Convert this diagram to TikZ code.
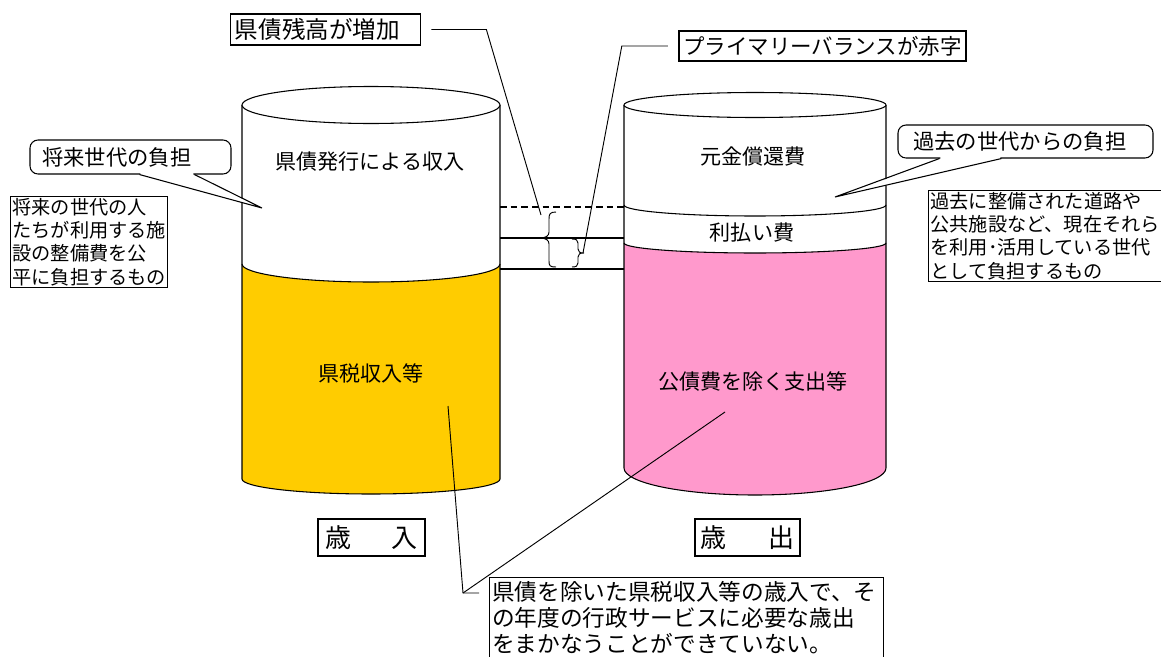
\documentclass[tikz,border=0pt]{standalone}
\usepackage{fontspec}
\setmainfont{Noto Sans CJK JP}
\usetikzlibrary{calc}
\definecolor{ylw}{HTML}{FFCC00}
\definecolor{pnk}{HTML}{FF99CC}
\begin{document}
\begin{tikzpicture}[x=0.75pt,y=-0.75pt,line width=0.8pt,
  cyltext/.style={inner sep=0pt,font=\fontsize{15.8pt}{19pt}\selectfont},
  callbox/.style={draw,fill=white,rounded corners=6pt,align=left,inner ysep=0pt,font=\fontsize{16pt}{19pt}\selectfont},
  notebox/.style={draw,fill=white,align=left,inner xsep=1.5pt,inner ysep=1pt,font=\fontsize{14.4pt}{17.6pt}\selectfont,anchor=north west},
  titlebox/.style={draw,fill=white,inner sep=0pt},
  leader/.style={line width=0.7pt}]

\clip (0,0) rectangle (1161,657);
\fill[white] (0,0) rectangle (1161,657);

% left cylinder
\fill[white] (242,105) -- (242,264) arc[start angle=180,end angle=0,x radius=129,y radius=18] -- (500,105) -- cycle;
\fill[ylw] (242,264) arc[start angle=180,end angle=0,x radius=129,y radius=18] -- (500,479) arc[start angle=0,end angle=180,x radius=129,y radius=15] -- cycle;
\draw (242,105) -- (242,479) arc[start angle=180,end angle=0,x radius=129,y radius=15] -- (500,105);
\draw (242,264) arc[start angle=180,end angle=0,x radius=129,y radius=18];
\draw[fill=white] (371,105) ellipse[x radius=129,y radius=18.5];

% right cylinder
\fill[pnk] (624,243) arc[start angle=180,end angle=0,x radius=131,y radius=10] -- (886,468) arc[start angle=0,end angle=180,x radius=131,y radius=27] -- cycle;
\draw (624,105) -- (624,468) arc[start angle=180,end angle=0,x radius=131,y radius=27] -- (886,105);
\draw (624,205) arc[start angle=180,end angle=0,x radius=131,y radius=11];
\draw (624,243) arc[start angle=180,end angle=0,x radius=131,y radius=10];
\draw[fill=white] (755,105) ellipse[x radius=131,y radius=12.5];

% level lines
\draw[line width=1.5pt,dash pattern=on 5pt off 3pt] (500,207) -- (624,207);
\draw (500,238) -- (624,238);
\draw (500,269) -- (624,269);

% braces
\draw[line width=0.7pt] (556,212) .. controls (550,212) and (549,214) .. (549,219) -- (549,232) .. controls (549,236) and (546,238) .. (539,238) .. controls (546,238) and (549,240) .. (549,244) -- (549,261) .. controls (549,266) and (550,267) .. (556,267);
\draw[line width=0.7pt] (572,239) .. controls (576,239) and (578,240) .. (578,243) -- (578,249) .. controls (578,252) and (580,253) .. (584,253) .. controls (580,253) and (578,254) .. (578,257) -- (578,263) .. controls (578,266) and (576,267) .. (572,267);

% cylinder texts
\node[cyltext] (kensai) at (370,162) {県債発行による収入};
\node[cyltext] (kenzei) at (371,373) {県税収入等};
\node[cyltext] (gankin) at (753,157) {元金償還費};
\node[cyltext] (rihara) at (752,233) {利払い費};
\node[cyltext] (kousai) at (753,382) {公債費を除く支出等};

% top boxes
\node[titlebox,text width=136pt,align=left,inner xsep=3.5pt,minimum height=23.25pt,font=\fontsize{17.7pt}{20pt}\selectfont] (zoka) at (325.5,29.5) {県債残高が増加};
\node[titlebox,minimum width=215.25pt,minimum height=22.5pt,font=\fontsize{16.1pt}{19pt}\selectfont] (pb) at (822.5,46) {プライマリーバランスが赤字};

% callouts
\node[callbox,text width=132.75pt,inner xsep=9pt,minimum height=25.5pt] (futan1) at (130.5,157) {将来世代の負担};
\coordinate (tip1) at (262,208);
\fill[white] ($(futan1.south west)+(111,-1.5)$) -- ($(futan1.south west)+(111,1.5)$) -- (tip1) -- ($(futan1.south west)+(164,1.5)$) -- ($(futan1.south west)+(164,-1.5)$) -- cycle;
\draw ($(futan1.south west)+(110,0)$) -- (tip1) -- ($(futan1.south west)+(165,0)$);

\node[callbox,text width=168.75pt,inner xsep=11.25pt,minimum height=24.75pt] (futan2) at (1025.5,141.5) {過去の世代からの負担};
\coordinate (tip2) at (835,197);
\fill[white] ($(futan2.south west)+(43,-1.5)$) -- ($(futan2.south west)+(43,1.5)$) -- (tip2) -- ($(futan2.south west)+(103,1.5)$) -- ($(futan2.south west)+(103,-1.5)$) -- cycle;
\draw ($(futan2.south west)+(42,0)$) -- (tip2) -- ($(futan2.south west)+(104,0)$);

% note boxes
\node[notebox,text width=115pt] (mirai) at (10,196) {将来の世代の人\\たちが利用する施\\設の整備費を公\\平に負担するもの};
\node[notebox,text width=185pt] (kako) at (928,190) {過去に整備された道路や\\公共施設など、現在それら\\を利用･活用している世代\\として負担するもの};

% revenue / expenditure labels
\node[titlebox,minimum width=80.25pt,minimum height=27.75pt,font=\fontsize{19.5pt}{22pt}\selectfont] (sainyu) at (371.5,537.5) {歳\hspace{30pt}入};
\node[titlebox,minimum width=78.75pt,minimum height=27.75pt,font=\fontsize{19.5pt}{22pt}\selectfont] (saishutsu) at (747.5,537.5) {歳\hspace{31pt}出};

% bottom box
\node[draw,fill=white,anchor=north west,minimum width=295.5pt,minimum height=72pt,inner sep=0pt] (b3) at (489,577) {};
\node[anchor=north west,inner sep=0pt,text width=291pt,align=left,font=\fontsize{17pt}{19.5pt}\selectfont] (b3t) at (491.5,580.5) {県債を除いた県税収入等の歳入で、そ\\の年度の行政サービスに必要な歳出\\をまかなうことができていない。};

% leaders
\coordinate (t1) at (541,215);
\coordinate (t2) at (583,253);
\draw[leader] ([xshift=7.5pt]zoka.east) -- ++(55,0) -- (t1);
\draw[leader] ([xshift=-8pt]pb.west) -- ++(-46,0) -- (t2);
\coordinate (corner) at (463,593);
\coordinate (t3) at (448,406);
\coordinate (t4) at (725,412);
\draw[leader] ($(b3.north west)+(-10,16)$) -- (corner) -- (t3);
\draw[leader] (corner) -- (t4);
\end{tikzpicture}
\end{document}
